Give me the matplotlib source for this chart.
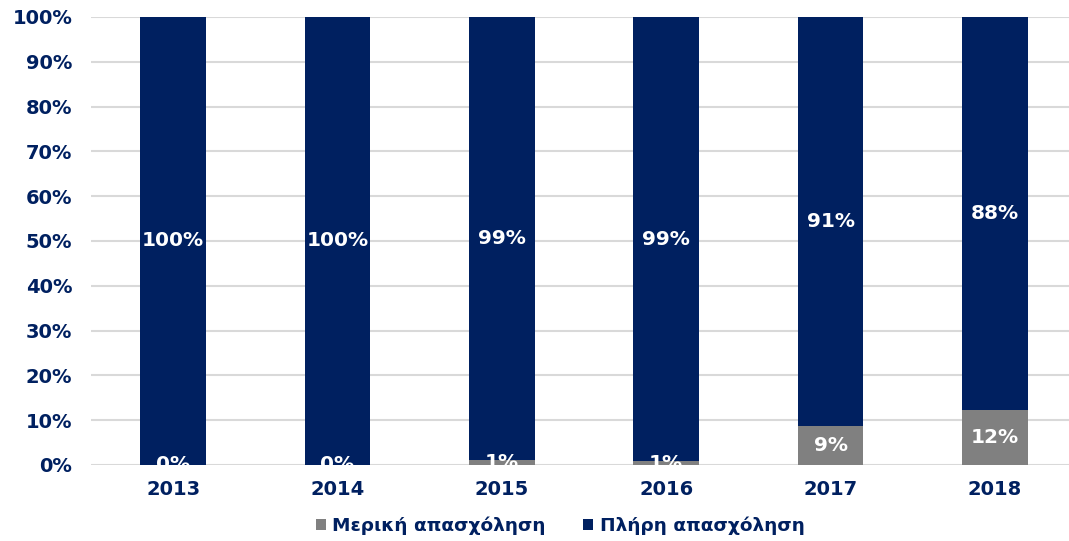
import matplotlib
matplotlib.use('Agg')
from matplotlib import pyplot as plt
import numpy as np

years = ['2013', '2014', '2015', '2016', '2017', '2018']
part_time = [0.0, 0.0, 1.1, 0.8, 8.6, 12.3]
full_time = [100 - v for v in part_time]
series_names = ['Μερική απασχόληση', 'Πλήρη απασχόληση']

navy = '#002060'
grey = '#808080'

plt.rcParams['font.family'] = ['DejaVu Sans']

fig = plt.figure(figsize=(10.69, 5.41), dpi=100)
ax = fig.add_axes([91 / 1069, 76 / 541, 986 / 1069, 448 / 541])

x = np.arange(len(years))
width = 0.4
b1 = ax.bar(x, part_time, width, color=grey, label=series_names[0], zorder=3)
b2 = ax.bar(x, full_time, width, bottom=part_time, color=navy, label=series_names[1], zorder=3)

# labels in the middle of each segment
for i in range(len(years)):
    ax.text(x[i], part_time[i] / 2, f'{round(part_time[i])}%', ha='center', va='center',
            color='white', fontsize=14.5, fontweight='bold', zorder=4)
    ax.text(x[i], part_time[i] + full_time[i] / 2, f'{round(full_time[i])}%', ha='center', va='center',
            color='white', fontsize=14.5, fontweight='bold', zorder=4)

ax.set_xlim(-0.5, len(years) - 0.5)
ax.set_ylim(0, 100)
ax.set_yticks(np.arange(0, 101, 10))
ax.set_yticklabels([f'{v}%' for v in range(0, 101, 10)])
ax.set_xticks(x)
ax.set_xticklabels(years)
ax.tick_params(axis='both', length=0, colors=navy, labelsize=14)
ax.tick_params(axis='y', pad=13.5)
ax.tick_params(axis='x', pad=11)
for lbl in ax.get_xticklabels() + ax.get_yticklabels():
    lbl.set_fontweight('bold')

ax.yaxis.grid(True, color='#d9d9d9', linewidth=1.5, zorder=0)
ax.set_axisbelow(True)
for s in ax.spines.values():
    s.set_visible(False)

leg = fig.legend(handles=[b1, b2], loc='center', bbox_to_anchor=(0.524, 0.028), ncol=2, frameon=False,
                 handlelength=0.55, handleheight=0.55, handletextpad=0.35, columnspacing=2.0,
                 prop={'size': 13.3, 'weight': 'bold'})
for t in leg.get_texts():
    t.set_color(navy)

fig.savefig('out.png', dpi=100)
